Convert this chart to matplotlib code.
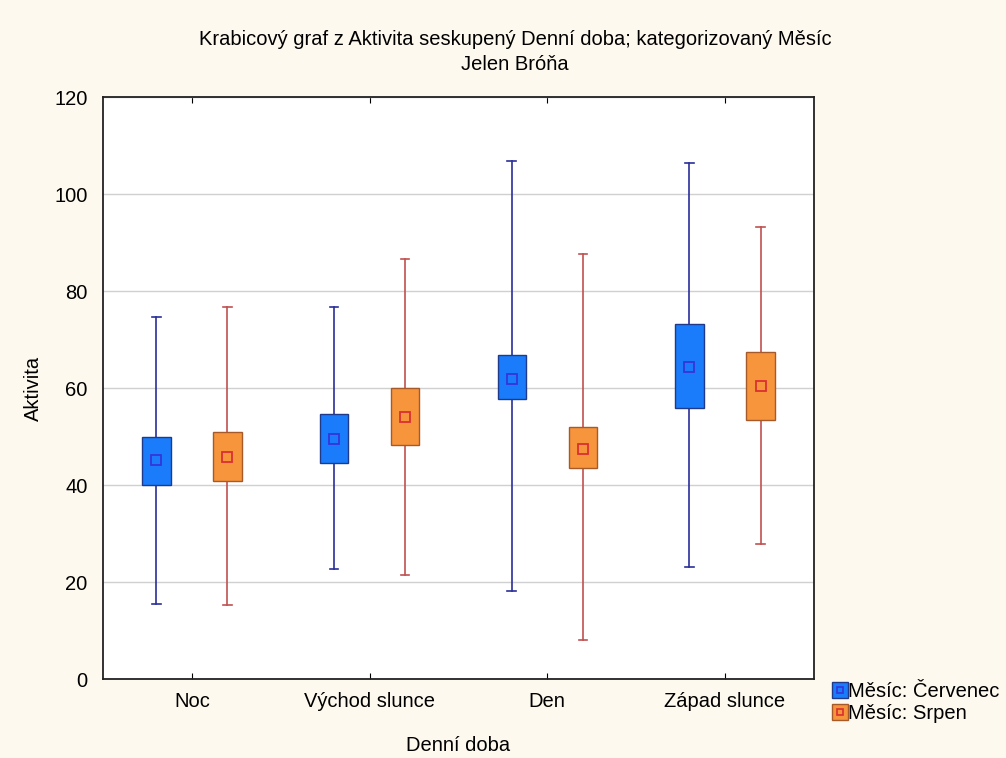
import matplotlib
matplotlib.use('Agg')
import matplotlib.pyplot as plt
from matplotlib.lines import Line2D

plt.rcParams['font.family'] = ['Liberation Sans', 'DejaVu Sans']

categories = ['Noc', 'Východ slunce', 'Den', 'Západ slunce']
series = ['Měsíc: Červenec', 'Měsíc: Srpen']

# median, box low, box high, whisker low, whisker high
cerv_med = [45.2, 49.5, 61.9, 64.3]
cerv_q1 = [40.0, 44.5, 57.7, 55.9]
cerv_q3 = [49.9, 54.6, 66.8, 73.2]
cerv_lo = [15.5, 22.7, 18.1, 23.1]
cerv_hi = [74.6, 76.7, 106.8, 106.4]

srp_med = [45.8, 54.0, 47.4, 60.4]
srp_q1 = [40.8, 48.2, 43.5, 53.4]
srp_q3 = [50.9, 60.0, 52.0, 67.4]
srp_lo = [15.3, 21.4, 8.0, 27.8]
srp_hi = [76.7, 86.6, 87.6, 93.2]

bg = '#fdf9ee'
fig = plt.figure(figsize=(10.06, 7.58), dpi=100, facecolor=bg)
ax = fig.add_axes([0.1024, 0.1042, 0.7066, 0.7678])
ax.set_facecolor('white')

styles = [
    dict(fill='#1a7cfa', edge='#1f3a8a', wh='#2a2f9a', mk='#3535d8', off=-0.2,
         med=cerv_med, q1=cerv_q1, q3=cerv_q3, lo=cerv_lo, hi=cerv_hi),
    dict(fill='#f7953d', edge='#a65a2a', wh='#c05050', mk='#d83030', off=0.2,
         med=srp_med, q1=srp_q1, q3=srp_q3, lo=srp_lo, hi=srp_hi),
]
bw = 0.16
cap = 0.024
for s in styles:
    for i in range(len(categories)):
        x = i + s['off']
        ax.plot([x, x], [s['lo'][i], s['hi'][i]], color=s['wh'], lw=1.2, zorder=2)
        ax.plot([x - cap, x + cap], [s['lo'][i]] * 2, color=s['wh'], lw=1.2, zorder=2)
        ax.plot([x - cap, x + cap], [s['hi'][i]] * 2, color=s['wh'], lw=1.2, zorder=2)
        ax.bar(x, s['q3'][i] - s['q1'][i], bottom=s['q1'][i], width=bw,
               color=s['fill'], edgecolor=s['edge'], lw=1.0, zorder=3)
        ax.plot(x, s['med'][i], marker='s', ms=7, mfc='none', mec=s['mk'],
                mew=1.3, zorder=4)

ax.set_xlim(-0.5, 3.5)
ax.set_ylim(0, 120)
ax.set_yticks(range(0, 121, 20))
ax.set_xticks(range(len(categories)))
ax.set_xticklabels(categories)
ax.yaxis.grid(True, color='#d0d0d0', lw=1)
ax.set_axisbelow(True)
ax.tick_params(axis='x', direction='in', length=4, top=True, labelsize=14.5, pad=9)
ax.tick_params(axis='y', length=0, labelsize=14.5, pad=11)
for sp in ax.spines.values():
    sp.set_color('#222222')
    sp.set_linewidth(1.3)

ax.set_xlabel('Denní doba', fontsize=14.5, labelpad=18)
ax.set_ylabel('Aktivita', fontsize=14.5, labelpad=8)
fig.text(0.512, 0.948, 'Krabicový graf z Aktivita seskupený Denní doba; kategorizovaný Měsíc',
         ha='center', va='center', fontsize=14.5)
fig.text(0.512, 0.915, 'Jelen Bróňa', ha='center', va='center', fontsize=14.5)

handles = []
for s in styles:
    outer = Line2D([], [], ls='none', marker='s', ms=12, mfc=s['fill'], mec=s['edge'])
    inner = Line2D([], [], ls='none', marker='s', ms=5, mfc='none', mec=s['mk'], mew=1.2)
    handles.append((outer, inner))
fig.legend(handles, series, loc='lower left', bbox_to_anchor=(0.818, 0.033),
           frameon=False, fontsize=14.5, handlelength=0.7, handletextpad=0.05,
           labelspacing=0.15, borderpad=0)

fig.savefig('out.png', dpi=100, facecolor=bg)
